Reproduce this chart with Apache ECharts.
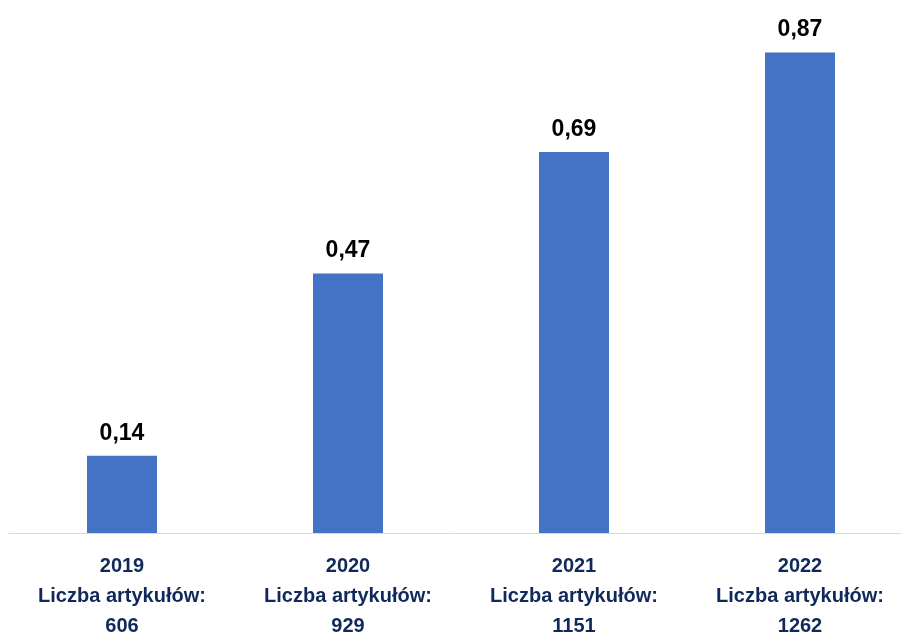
<!DOCTYPE html>
<html>
<head>
<meta charset="utf-8">
<script src="https://cdn.jsdelivr.net/npm/echarts@6/dist/echarts.min.js"></script>
<style>
  html, body { margin: 0; padding: 0; background: #fff; }
  #chart { width: 901px; height: 633px; }
</style>
</head>
<body>
<div id="chart"></div>
<script>
// dane
var years = ['2019', '2020', '2021', '2022'];
var articleCounts = [606, 929, 1151, 1262];
var values = [0.14, 0.47, 0.69, 0.87];

var categories = years.map(function (y, i) {
  return y + '\nLiczba artykułów:\n' + articleCounts[i];
});

var chart = echarts.init(document.getElementById('chart'));

var option = {
  animation: false,
  grid: {
    left: 9,
    width: 904,
    top: 36,
    bottom: 100,
    outerBoundsMode: 'none',
    containLabel: false
  },
  xAxis: {
    type: 'category',
    data: categories,
    axisTick: { show: false },
    axisLine: {
      lineStyle: { color: '#d9d9d9', width: 1 }
    },
    axisLabel: {
      interval: 0,
      margin: 18,
      color: '#10295a',
      fontFamily: 'Liberation Sans',
      fontWeight: 'bold',
      fontSize: 20,
      lineHeight: 30
    }
  },
  yAxis: {
    type: 'value',
    min: 0,
    max: 0.9,
    show: false,
    splitLine: { show: false }
  },
  series: [
    {
      type: 'bar',
      data: values,
      barWidth: 70,
      itemStyle: { color: '#4472c4' },
      label: {
        show: true,
        position: 'top',
        distance: 11,
        color: '#000',
        fontFamily: 'Liberation Sans',
        fontWeight: 'bold',
        fontSize: 23,
        formatter: function (p) {
          return p.value.toFixed(2).replace('.', ',');
        }
      }
    }
  ]
};

chart.setOption(option);
</script>
</body>
</html>
